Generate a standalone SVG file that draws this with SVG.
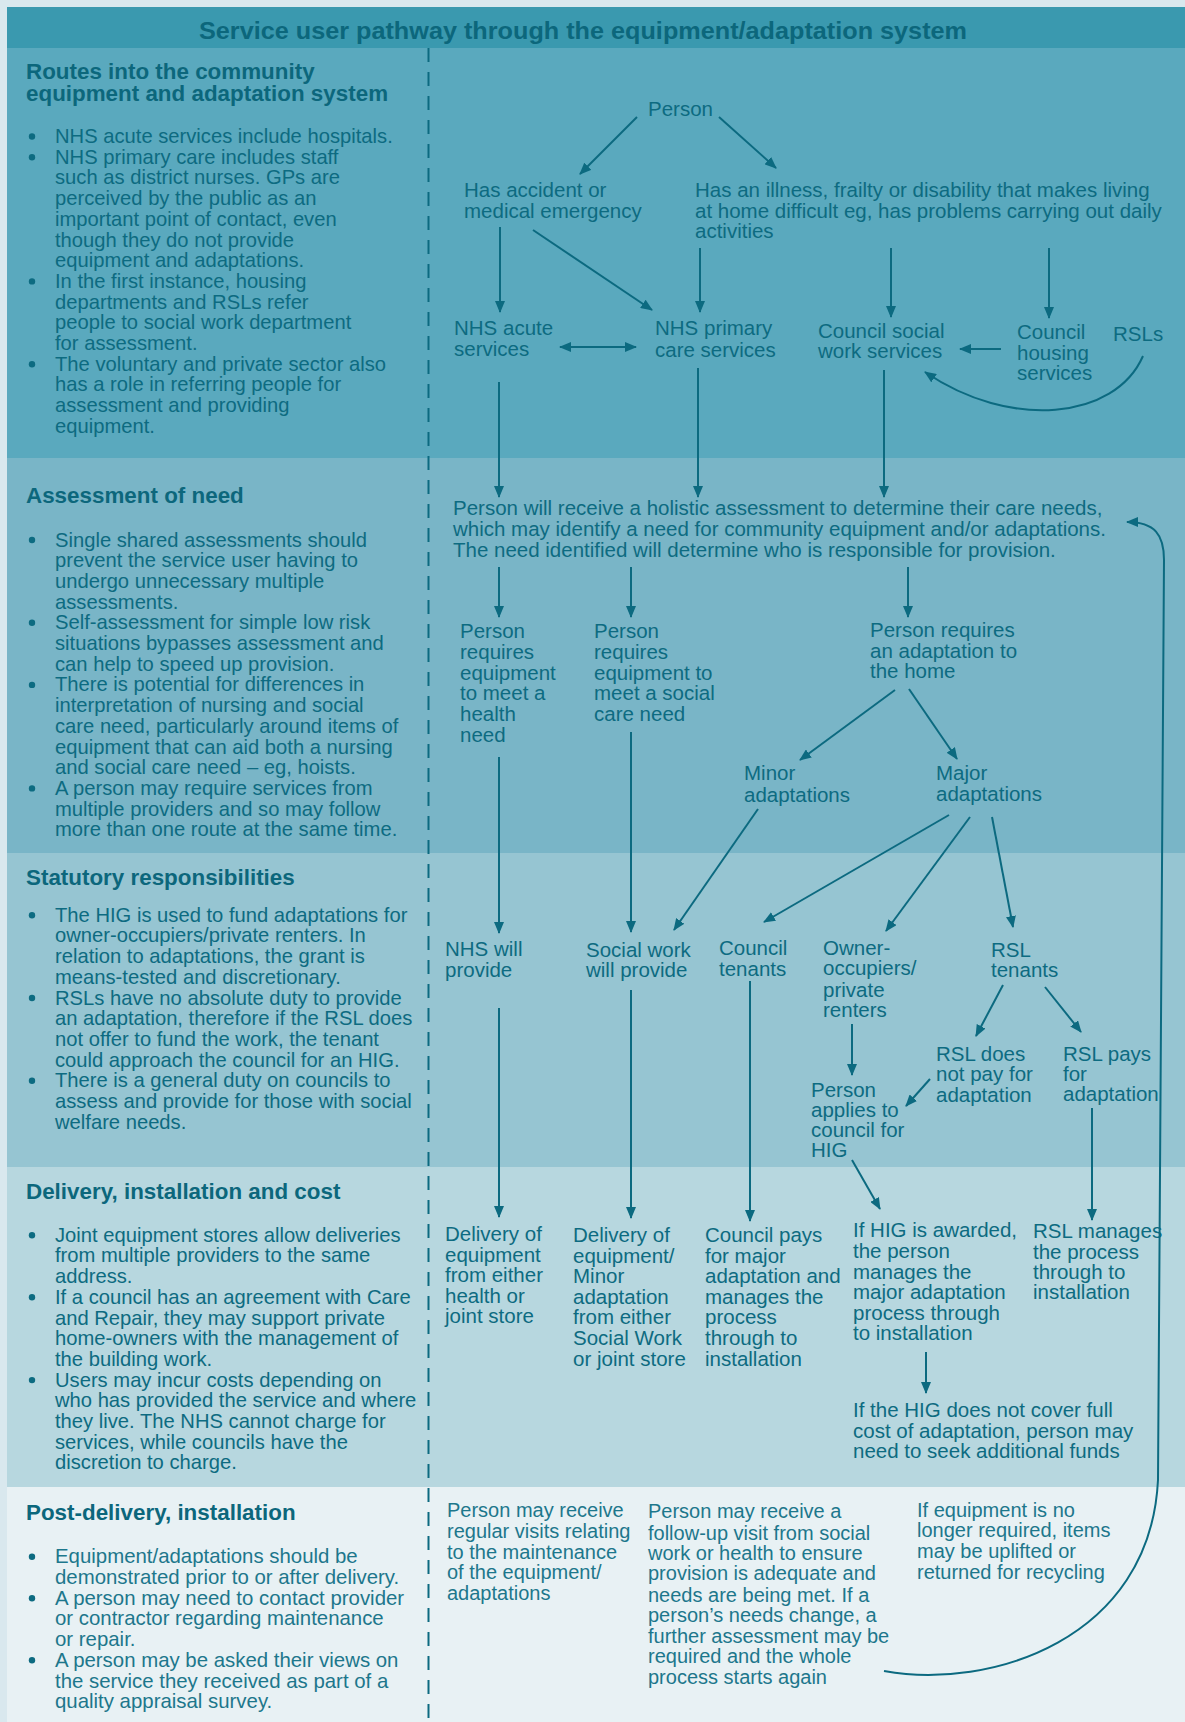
<svg xmlns="http://www.w3.org/2000/svg" width="1185" height="1722" viewBox="0 0 1185 1722">
<defs>
<style>
text{font-family:"Liberation Sans",Arial,sans-serif;fill:#0d6b81}
.t{font-size:20.5px}
.s5{font-size:20px;fill:#1d778c}
.l{font-size:20.2px}
.l5{font-size:20.4px;fill:#1d778c}
.h{font-size:22.4px;font-weight:bold;fill:#0c677c}
.title{font-size:24.5px;font-weight:bold;fill:#0c677c}
.c{fill:none;stroke:#0c6a80;stroke-width:2}
.a{marker-end:url(#ah)}
.dot{fill:#0d6b81}
</style>
<marker id="ah" viewBox="0 0 12 10" refX="11" refY="5" markerWidth="12" markerHeight="10" markerUnits="userSpaceOnUse" orient="auto-start-reverse">
<path d="M0,0 L12,5 L0,10 z" fill="#0c6a80"/>
</marker>
</defs>
<rect width="1185" height="1722" fill="#d9e8ee"/>
<g id="bands">
<rect x="7" y="7" width="1178" height="41" fill="#3a99af"/>
<rect x="7" y="48" width="1178" height="410" fill="#5aa9be"/>
<rect x="7" y="458" width="1178" height="395" fill="#79b5c7"/>
<rect x="7" y="853" width="1178" height="314" fill="#96c5d2"/>
<rect x="7" y="1167" width="1178" height="320" fill="#b7d7df"/>
<rect x="7" y="1487" width="1178" height="235" fill="#e8f1f4"/>
<line x1="428.5" y1="48" x2="428.5" y2="1722" stroke="#0c6a80" stroke-width="2" stroke-dasharray="14 10"/>
</g>
<g id="title"><text class="title" x="583" y="39" text-anchor="middle" textLength="768" lengthAdjust="spacingAndGlyphs">Service user pathway through the equipment/adaptation system</text></g>

<g id="notes-routes">
<text class="h" x="26"><tspan x="26" y="79">Routes into the community</tspan><tspan x="26" y="101">equipment and adaptation system</tspan></text>
<circle class="dot" cx="32" cy="136.5" r="3.2"/><circle class="dot" cx="32" cy="157.2" r="3.2"/><circle class="dot" cx="32" cy="281.4" r="3.2"/><circle class="dot" cx="32" cy="364.2" r="3.2"/>
<text class="l">
<tspan x="55" y="143">NHS acute services include hospitals.</tspan>
<tspan x="55" y="163.7">NHS primary care includes staff</tspan>
<tspan x="55" y="184.4">such as district nurses. GPs are</tspan>
<tspan x="55" y="205.1">perceived by the public as an</tspan>
<tspan x="55" y="225.8">important point of contact, even</tspan>
<tspan x="55" y="246.5">though they do not provide</tspan>
<tspan x="55" y="267.2">equipment and adaptations.</tspan>
<tspan x="55" y="287.9">In the first instance, housing</tspan>
<tspan x="55" y="308.6">departments and RSLs refer</tspan>
<tspan x="55" y="329.3">people to social work department</tspan>
<tspan x="55" y="350">for assessment.</tspan>
<tspan x="55" y="370.7">The voluntary and private sector also</tspan>
<tspan x="55" y="391.4">has a role in referring people for</tspan>
<tspan x="55" y="412.1">assessment and providing</tspan>
<tspan x="55" y="432.8">equipment.</tspan>
</text>
</g>

<g id="notes-assessment">
<text class="h" x="26" y="503">Assessment of need</text>
<circle class="dot" cx="32" cy="540" r="3.2"/><circle class="dot" cx="32" cy="622.8" r="3.2"/><circle class="dot" cx="32" cy="684.9" r="3.2"/><circle class="dot" cx="32" cy="788.4" r="3.2"/>
<text class="l">
<tspan x="55" y="546.5">Single shared assessments should</tspan>
<tspan x="55" y="567.2">prevent the service user having to</tspan>
<tspan x="55" y="587.9">undergo unnecessary multiple</tspan>
<tspan x="55" y="608.6">assessments.</tspan>
<tspan x="55" y="629.3">Self-assessment for simple low risk</tspan>
<tspan x="55" y="650">situations bypasses assessment and</tspan>
<tspan x="55" y="670.7">can help to speed up provision.</tspan>
<tspan x="55" y="691.4">There is potential for differences in</tspan>
<tspan x="55" y="712.1">interpretation of nursing and social</tspan>
<tspan x="55" y="732.8">care need, particularly around items of</tspan>
<tspan x="55" y="753.5">equipment that can aid both a nursing</tspan>
<tspan x="55" y="774.2">and social care need – eg, hoists.</tspan>
<tspan x="55" y="794.9">A person may require services from</tspan>
<tspan x="55" y="815.6">multiple providers and so may follow</tspan>
<tspan x="55" y="836.3">more than one route at the same time.</tspan>
</text>
</g>

<g id="notes-statutory">
<text class="h" x="26" y="885">Statutory responsibilities</text>
<circle class="dot" cx="32" cy="915.2" r="3.2"/><circle class="dot" cx="32" cy="998" r="3.2"/><circle class="dot" cx="32" cy="1080.8" r="3.2"/>
<text class="l">
<tspan x="55" y="921.7">The HIG is used to fund adaptations for</tspan>
<tspan x="55" y="942.4">owner-occupiers/private renters. In</tspan>
<tspan x="55" y="963.1">relation to adaptations, the grant is</tspan>
<tspan x="55" y="983.8">means-tested and discretionary.</tspan>
<tspan x="55" y="1004.5">RSLs have no absolute duty to provide</tspan>
<tspan x="55" y="1025.2">an adaptation, therefore if the RSL does</tspan>
<tspan x="55" y="1045.9">not offer to fund the work, the tenant</tspan>
<tspan x="55" y="1066.6">could approach the council for an HIG.</tspan>
<tspan x="55" y="1087.3">There is a general duty on councils to</tspan>
<tspan x="55" y="1108">assess and provide for those with social</tspan>
<tspan x="55" y="1128.7">welfare needs.</tspan>
</text>
</g>

<g id="notes-delivery">
<text class="h" x="26" y="1199">Delivery, installation and cost</text>
<circle class="dot" cx="32" cy="1235.2" r="3.2"/><circle class="dot" cx="32" cy="1297.3" r="3.2"/><circle class="dot" cx="32" cy="1380.1" r="3.2"/>
<text class="l">
<tspan x="55" y="1241.7">Joint equipment stores allow deliveries</tspan>
<tspan x="55" y="1262.4">from multiple providers to the same</tspan>
<tspan x="55" y="1283.1">address.</tspan>
<tspan x="55" y="1303.8">If a council has an agreement with Care</tspan>
<tspan x="55" y="1324.5">and Repair, they may support private</tspan>
<tspan x="55" y="1345.2">home-owners with the management of</tspan>
<tspan x="55" y="1365.9">the building work.</tspan>
<tspan x="55" y="1386.6">Users may incur costs depending on</tspan>
<tspan x="55" y="1407.3">who has provided the service and where</tspan>
<tspan x="55" y="1428">they live. The NHS cannot charge for</tspan>
<tspan x="55" y="1448.7">services, while councils have the</tspan>
<tspan x="55" y="1469.4">discretion to charge.</tspan>
</text>
</g>

<g id="notes-post">
<text class="h" x="26" y="1520">Post-delivery, installation</text>
<circle class="dot" cx="32" cy="1556.8" r="3.2"/><circle class="dot" cx="32" cy="1598.2" r="3.2"/><circle class="dot" cx="32" cy="1660.3" r="3.2"/>
<text class="l5">
<tspan x="55" y="1563.3">Equipment/adaptations should be</tspan>
<tspan x="55" y="1584">demonstrated prior to or after delivery.</tspan>
<tspan x="55" y="1604.7">A person may need to contact provider</tspan>
<tspan x="55" y="1625.4">or contractor regarding maintenance</tspan>
<tspan x="55" y="1646.1">or repair.</tspan>
<tspan x="55" y="1666.8">A person may be asked their views on</tspan>
<tspan x="55" y="1687.5">the service they received as part of a</tspan>
<tspan x="55" y="1708.2">quality appraisal survey.</tspan>
</text>
</g>

<g id="person"><text class="t" x="648" y="116">Person</text></g>
<g id="accident"><text class="t"><tspan x="464" y="197">Has accident or</tspan><tspan x="464" y="218">medical emergency</tspan></text></g>
<g id="illness"><text class="t"><tspan x="695" y="197">Has an illness, frailty or disability that makes living</tspan><tspan x="695" y="218">at home difficult eg, has problems carrying out daily</tspan><tspan x="695" y="238">activities</tspan></text></g>
<g id="nhs-acute"><text class="t"><tspan x="454" y="335">NHS acute</tspan><tspan x="454" y="356">services</tspan></text></g>
<g id="nhs-primary"><text class="t"><tspan x="655" y="335">NHS primary</tspan><tspan x="655" y="357">care services</tspan></text></g>
<g id="council-social"><text class="t"><tspan x="818" y="338">Council social</tspan><tspan x="818" y="358">work services</tspan></text></g>
<g id="council-housing"><text class="t"><tspan x="1017" y="339">Council</tspan><tspan x="1017" y="360">housing</tspan><tspan x="1017" y="380">services</tspan></text></g>
<g id="rsls"><text class="t" x="1113" y="341">RSLs</text></g>
<g id="assessment"><text class="t"><tspan x="453" y="515">Person will receive a holistic assessment to determine their care needs,</tspan><tspan x="453" y="536">which may identify a need for community equipment and/or adaptations.</tspan><tspan x="453" y="557">The need identified will determine who is responsible for provision.</tspan></text></g>
<g id="health-need"><text class="t"><tspan x="460" y="638">Person</tspan><tspan x="460" y="659">requires</tspan><tspan x="460" y="680">equipment</tspan><tspan x="460" y="700">to meet a</tspan><tspan x="460" y="721">health</tspan><tspan x="460" y="742">need</tspan></text></g>
<g id="social-need"><text class="t"><tspan x="594" y="638">Person</tspan><tspan x="594" y="659">requires</tspan><tspan x="594" y="680">equipment to</tspan><tspan x="594" y="700">meet a social</tspan><tspan x="594" y="721">care need</tspan></text></g>
<g id="adaptation-need"><text class="t"><tspan x="870" y="637">Person requires</tspan><tspan x="870" y="658">an adaptation to</tspan><tspan x="870" y="678">the home</tspan></text></g>
<g id="minor"><text class="t"><tspan x="744" y="780">Minor</tspan><tspan x="744" y="802">adaptations</tspan></text></g>
<g id="major"><text class="t"><tspan x="936" y="780">Major</tspan><tspan x="936" y="801">adaptations</tspan></text></g>
<g id="nhs-provide"><text class="t"><tspan x="445" y="956">NHS will</tspan><tspan x="445" y="977">provide</tspan></text></g>
<g id="sw-provide"><text class="t"><tspan x="586" y="957">Social work</tspan><tspan x="586" y="977">will provide</tspan></text></g>
<g id="council-tenants"><text class="t"><tspan x="719" y="955">Council</tspan><tspan x="719" y="976">tenants</tspan></text></g>
<g id="owner-occupiers"><text class="t"><tspan x="823" y="955">Owner-</tspan><tspan x="823" y="975">occupiers/</tspan><tspan x="823" y="997">private</tspan><tspan x="823" y="1017">renters</tspan></text></g>
<g id="rsl-tenants"><text class="t"><tspan x="991" y="957">RSL</tspan><tspan x="991" y="977">tenants</tspan></text></g>
<g id="rsl-not-pay"><text class="t"><tspan x="936" y="1061">RSL does</tspan><tspan x="936" y="1081">not pay for</tspan><tspan x="936" y="1102">adaptation</tspan></text></g>
<g id="rsl-pays"><text class="t"><tspan x="1063" y="1061">RSL pays</tspan><tspan x="1063" y="1081">for</tspan><tspan x="1063" y="1101">adaptation</tspan></text></g>
<g id="person-applies"><text class="t"><tspan x="811" y="1097">Person</tspan><tspan x="811" y="1117">applies to</tspan><tspan x="811" y="1137">council for</tspan><tspan x="811" y="1157">HIG</tspan></text></g>
<g id="delivery-health"><text class="t"><tspan x="445" y="1241">Delivery of</tspan><tspan x="445" y="1262">equipment</tspan><tspan x="445" y="1282">from either</tspan><tspan x="445" y="1303">health or</tspan><tspan x="445" y="1323">joint store</tspan></text></g>
<g id="delivery-sw"><text class="t"><tspan x="573" y="1242">Delivery of</tspan><tspan x="573" y="1263">equipment/</tspan><tspan x="573" y="1283">Minor</tspan><tspan x="573" y="1304">adaptation</tspan><tspan x="573" y="1324">from either</tspan><tspan x="573" y="1345">Social Work</tspan><tspan x="573" y="1366">or joint store</tspan></text></g>
<g id="council-pays"><text class="t"><tspan x="705" y="1242">Council pays</tspan><tspan x="705" y="1263">for major</tspan><tspan x="705" y="1283">adaptation and</tspan><tspan x="705" y="1304">manages the</tspan><tspan x="705" y="1324">process</tspan><tspan x="705" y="1345">through to</tspan><tspan x="705" y="1366">installation</tspan></text></g>
<g id="hig-awarded"><text class="t"><tspan x="853" y="1237">If HIG is awarded,</tspan><tspan x="853" y="1258">the person</tspan><tspan x="853" y="1279">manages the</tspan><tspan x="853" y="1299">major adaptation</tspan><tspan x="853" y="1320">process through</tspan><tspan x="853" y="1340">to installation</tspan></text></g>
<g id="rsl-manages"><text class="t"><tspan x="1033" y="1238">RSL manages</tspan><tspan x="1033" y="1259">the process</tspan><tspan x="1033" y="1279">through to</tspan><tspan x="1033" y="1299">installation</tspan></text></g>
<g id="hig-shortfall"><text class="t"><tspan x="853" y="1417">If the HIG does not cover full</tspan><tspan x="853" y="1438">cost of adaptation, person may</tspan><tspan x="853" y="1458">need to seek additional funds</tspan></text></g>
<g id="regular-visits"><text class="s5"><tspan x="447" y="1517">Person may receive</tspan><tspan x="447" y="1538">regular visits relating</tspan><tspan x="447" y="1559">to the maintenance</tspan><tspan x="447" y="1579">of the equipment/</tspan><tspan x="447" y="1600">adaptations</tspan></text></g>
<g id="follow-up"><text class="s5"><tspan x="648" y="1518">Person may receive a</tspan><tspan x="648" y="1540">follow-up visit from social</tspan><tspan x="648" y="1560">work or health to ensure</tspan><tspan x="648" y="1580">provision is adequate and</tspan><tspan x="648" y="1602">needs are being met. If a</tspan><tspan x="648" y="1622">person’s needs change, a</tspan><tspan x="648" y="1643">further assessment may be</tspan><tspan x="648" y="1663">required and the whole</tspan><tspan x="648" y="1684">process starts again</tspan></text></g>
<g id="uplift"><text class="s5"><tspan x="917" y="1517">If equipment is no</tspan><tspan x="917" y="1537">longer required, items</tspan><tspan x="917" y="1558">may be uplifted or</tspan><tspan x="917" y="1579">returned for recycling</tspan></text></g>

<g id="connectors">
<path class="c a" d="M637,117 L580,174"/>
<path class="c a" d="M719,117 L776,168"/>
<path class="c a" d="M500,227 L500,312"/>
<path class="c a" d="M533,230 L652,310"/>
<path class="c a" d="M700,248 L700,312"/>
<path class="c a" d="M891,248 L891,317"/>
<path class="c a" d="M1049,248 L1049,318"/>
<path class="c a" d="M560,347 L636,347" marker-start="url(#ah)"/>
<path class="c a" d="M1001,349 L960,349"/>
<path class="c a" d="M1143,356 C1115,420 1010,430 925,372"/>
<path class="c a" d="M499,382 L499,497"/>
<path class="c a" d="M698,368 L698,497"/>
<path class="c a" d="M884,370 L884,497"/>
<path class="c a" d="M499,567 L499,617"/>
<path class="c a" d="M631,567 L631,617"/>
<path class="c a" d="M908,567 L908,617"/>
<path class="c a" d="M895,690 L800,760"/>
<path class="c a" d="M909,689 L957,759"/>
<path class="c a" d="M499,757 L499,933"/>
<path class="c a" d="M631,732 L631,932"/>
<path class="c a" d="M758,809 L674,930"/>
<path class="c a" d="M949,815 L764,922"/>
<path class="c a" d="M970,817 L886,931"/>
<path class="c a" d="M992,817 L1013,927"/>
<path class="c a" d="M499,1008 L499,1217"/>
<path class="c a" d="M631,990 L631,1218"/>
<path class="c a" d="M750,981 L750,1221"/>
<path class="c a" d="M852,1024 L852,1075"/>
<path class="c a" d="M1003,985 L976,1036"/>
<path class="c a" d="M1045,987 L1081,1032"/>
<path class="c a" d="M930,1079 L906,1106"/>
<path class="c a" d="M852,1160 L880,1209"/>
<path class="c a" d="M1092,1108 L1092,1220"/>
<path class="c a" d="M926,1352 L926,1393"/>
<path class="c a" d="M884,1671 C990,1690 1150,1640 1158,1480 L1164,560 C1164,535 1155,522 1127,522"/>
</g>
</svg>
